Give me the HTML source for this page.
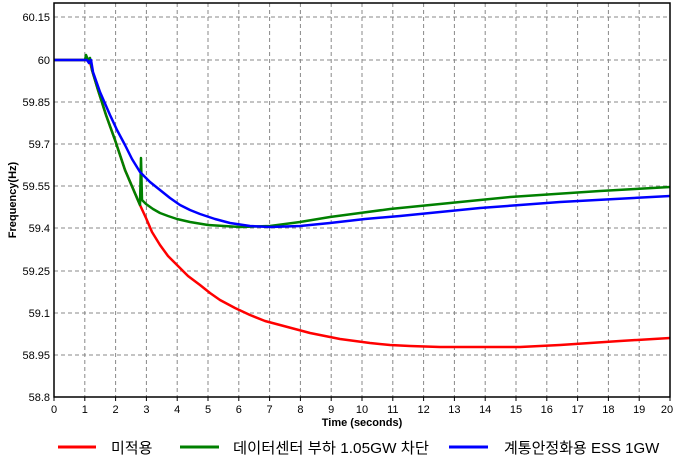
<!DOCTYPE html>
<html><head><meta charset="utf-8"><style>
body{margin:0;background:#fff}
svg text{font-family:"Liberation Sans","Noto Sans CJK KR",sans-serif}
</style></head><body>
<svg width="676" height="466" viewBox="0 0 676 466" xmlns="http://www.w3.org/2000/svg">
<rect width="676" height="466" fill="#fff"/>
<g stroke="#888" stroke-width="1" stroke-dasharray="4,3">
<line x1="54" x2="670" y1="17" y2="17"/><line x1="54" x2="670" y1="60" y2="60"/><line x1="54" x2="670" y1="102" y2="102"/><line x1="54" x2="670" y1="144" y2="144"/><line x1="54" x2="670" y1="186" y2="186"/><line x1="54" x2="670" y1="228" y2="228"/><line x1="54" x2="670" y1="271" y2="271"/><line x1="54" x2="670" y1="313" y2="313"/><line x1="54" x2="670" y1="355" y2="355"/>
<line x1="84.8" x2="84.8" y1="3" y2="397"/><line x1="115.6" x2="115.6" y1="3" y2="397"/><line x1="146.4" x2="146.4" y1="3" y2="397"/><line x1="177.2" x2="177.2" y1="3" y2="397"/><line x1="208" x2="208" y1="3" y2="397"/><line x1="238.8" x2="238.8" y1="3" y2="397"/><line x1="269.6" x2="269.6" y1="3" y2="397"/><line x1="300.4" x2="300.4" y1="3" y2="397"/><line x1="331.2" x2="331.2" y1="3" y2="397"/><line x1="362" x2="362" y1="3" y2="397"/><line x1="392.8" x2="392.8" y1="3" y2="397"/><line x1="423.6" x2="423.6" y1="3" y2="397"/><line x1="454.4" x2="454.4" y1="3" y2="397"/><line x1="485.2" x2="485.2" y1="3" y2="397"/><line x1="516" x2="516" y1="3" y2="397"/><line x1="546.8" x2="546.8" y1="3" y2="397"/><line x1="577.6" x2="577.6" y1="3" y2="397"/><line x1="608.4" x2="608.4" y1="3" y2="397"/><line x1="639.2" x2="639.2" y1="3" y2="397"/>
</g>
<g stroke="#000" stroke-width="1">
<line x1="54" x2="54" y1="397" y2="401"/><line x1="84.8" x2="84.8" y1="397" y2="401"/><line x1="115.6" x2="115.6" y1="397" y2="401"/><line x1="146.4" x2="146.4" y1="397" y2="401"/><line x1="177.2" x2="177.2" y1="397" y2="401"/><line x1="208" x2="208" y1="397" y2="401"/><line x1="238.8" x2="238.8" y1="397" y2="401"/><line x1="269.6" x2="269.6" y1="397" y2="401"/><line x1="300.4" x2="300.4" y1="397" y2="401"/><line x1="331.2" x2="331.2" y1="397" y2="401"/><line x1="362" x2="362" y1="397" y2="401"/><line x1="392.8" x2="392.8" y1="397" y2="401"/><line x1="423.6" x2="423.6" y1="397" y2="401"/><line x1="454.4" x2="454.4" y1="397" y2="401"/><line x1="485.2" x2="485.2" y1="397" y2="401"/><line x1="516" x2="516" y1="397" y2="401"/><line x1="546.8" x2="546.8" y1="397" y2="401"/><line x1="577.6" x2="577.6" y1="397" y2="401"/><line x1="608.4" x2="608.4" y1="397" y2="401"/><line x1="639.2" x2="639.2" y1="397" y2="401"/><line x1="670" x2="670" y1="397" y2="401"/>
</g>
<polyline fill="none" stroke="#ff0000" stroke-width="2.5" stroke-linejoin="round" points="54,60 88,60 90,62 92,70 98,90 106,115 115,140 125,170 140,205 146,218 152,232 160,245 168,256 177,265 188,276 200,285 210,293 220,300 235,308 250,315 265,321 280,325 295,329 310,333 325,336 340,339 355,341 370,343 390,345 410,346 440,347 480,347 520,347 560,345 620,341 670,338"/>
<polyline fill="none" stroke="#008000" stroke-width="2.5" stroke-linejoin="round" points="54,60 85,60 86,55 88,60 90,58 92,70 98,90 106,115 115,140 125,170 140,205 141,158 142,200 146,204 153,209 160,213 168,216 177,219 190,222 208,225 240,227 270,226 300,222 330,217 360,213 390,209 420,206 450,203 480,200 510,197 540,195 570,193 600,191 635,189 670,187"/>
<polyline fill="none" stroke="#0000ff" stroke-width="2.5" stroke-linejoin="round" points="54,60 87,60 89,63 91,60 93,72 100,92 110,115 117,130 125,145 132,159 140,172 150,182 160,190 170,198 180,205 190,210 200,214 215,219 230,223 250,226 270,227 300,226 330,223 365,219 400,216 440,212 480,208 520,205 560,202 615,199 670,196"/>
<rect x="54" y="3" width="616" height="394" fill="none" stroke="#000" stroke-width="1.5"/>
<g font-size="11" fill="#000" text-anchor="end">
<text x="50" y="21">60.15</text><text x="50" y="64">60</text><text x="50" y="106">59.85</text><text x="50" y="148">59.7</text><text x="50" y="190">59.55</text><text x="50" y="232">59.4</text><text x="50" y="275">59.25</text><text x="50" y="317">59.1</text><text x="50" y="359">58.95</text><text x="50" y="401">58.8</text>
</g>
<g font-size="11" fill="#000" text-anchor="middle">
<text x="54" y="413">0</text><text x="84.8" y="413">1</text><text x="115.6" y="413">2</text><text x="146.4" y="413">3</text><text x="177.2" y="413">4</text><text x="208" y="413">5</text><text x="238.8" y="413">6</text><text x="269.6" y="413">7</text><text x="300.4" y="413">8</text><text x="331.2" y="413">9</text><text x="362" y="413">10</text><text x="392.8" y="413">11</text><text x="423.6" y="413">12</text><text x="454.4" y="413">13</text><text x="485.2" y="413">14</text><text x="516" y="413">15</text><text x="546.8" y="413">16</text><text x="577.6" y="413">17</text><text x="608.4" y="413">18</text><text x="639.2" y="413">19</text><text x="667" y="413">20</text>
<text x="362" y="426" font-weight="bold">Time (seconds)</text>
<text transform="translate(16,200) rotate(-90)" font-weight="bold">Frequency(Hz)</text>
</g>
<line x1="58" x2="96" y1="447" y2="447" stroke="#ff0000" stroke-width="3"/>
<text x="111" y="453" font-size="15">미적용</text>
<line x1="180" x2="219" y1="447" y2="447" stroke="#008000" stroke-width="3"/>
<text x="233" y="453" font-size="15" textLength="196" lengthAdjust="spacingAndGlyphs">데이터센터 부하 1.05GW 차단</text>
<line x1="449" x2="488" y1="447" y2="447" stroke="#0000ff" stroke-width="3"/>
<text x="504" y="453" font-size="15">계통안정화용 ESS 1GW</text>
</svg>
</body></html>
